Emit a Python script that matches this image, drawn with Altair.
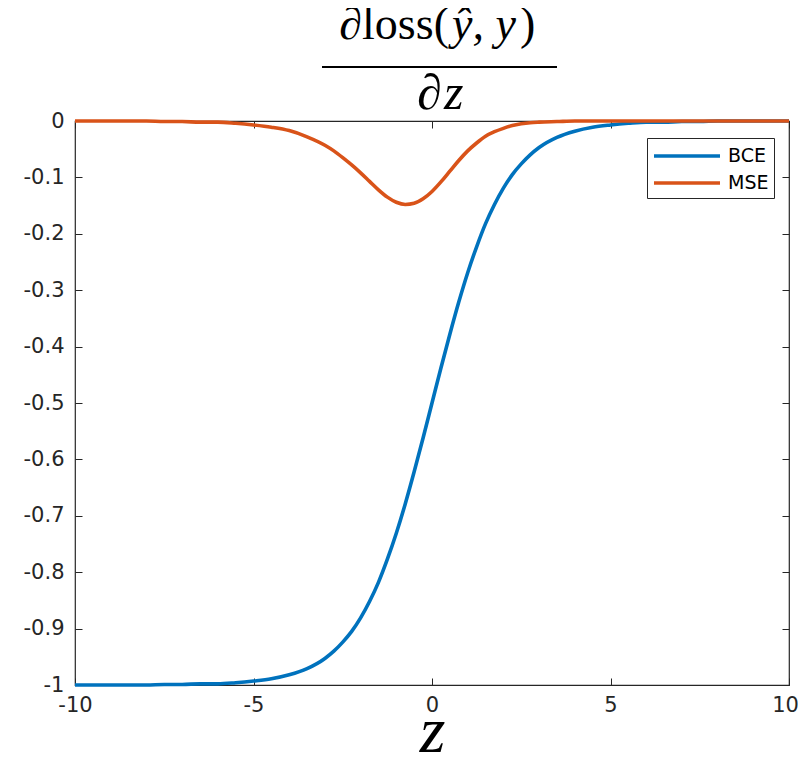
import altair as alt
import pandas as pd

z_vals = [-10, -9.5, -9, -8.5, -8, -7.5, -7, -6.5, -6, -5.5, -5, -4.5, -4, -3.5, -3,
          -2.75, -2.5, -2.25, -2, -1.75, -1.5, -1.25, -1, -0.75, -0.5, -0.25, 0,
          0.25, 0.5, 0.75, 1, 1.25, 1.5, 1.75, 2, 2.25, 2.5, 2.75,
          3, 3.5, 4, 4.5, 5, 5.5, 6, 6.5, 7, 7.5, 8, 8.5, 9, 9.5, 10]

bce_vals = [-1.000, -1.000, -1.000, -1.000, -1.000, -0.999, -0.999, -0.998, -0.998, -0.996,
            -0.993, -0.989, -0.982, -0.971, -0.953,
            -0.940, -0.924, -0.905, -0.881, -0.852, -0.818, -0.777, -0.731, -0.679, -0.622,
            -0.562, -0.500, -0.438, -0.378, -0.321, -0.269, -0.223, -0.182, -0.148, -0.119,
            -0.095, -0.076, -0.060,
            -0.047, -0.029, -0.018, -0.011, -0.007, -0.004, -0.002, -0.002, -0.001, -0.001,
            0.000, 0.000, 0.000, 0.000, 0.000]

mse_vals = [0.000, 0.000, 0.000, 0.000, 0.000, -0.001, -0.001, -0.002, -0.002, -0.004,
            -0.007, -0.011, -0.017, -0.028, -0.043,
            -0.053, -0.065, -0.078, -0.092, -0.107, -0.122, -0.135, -0.144, -0.148, -0.146,
            -0.138, -0.125, -0.108, -0.089, -0.070, -0.053, -0.039, -0.027, -0.019, -0.013,
            -0.008, -0.005, -0.003,
            -0.002, -0.001, 0.000, 0.000, 0.000, 0.000, 0.000, 0.000, 0.000, 0.000,
            0.000, 0.000, 0.000, 0.000, 0.000]

series_names = ["BCE", "MSE"]
series_colors = ["#0072BD", "#D95319"]
x_ticks = [-10, -5, 0, 5, 10]
y_ticks = [-1, -0.9, -0.8, -0.7, -0.6, -0.5, -0.4, -0.3, -0.2, -0.1, 0]
num_pieces = ["∂loss(", "ŷ, y", ")"]
den_pieces = ["∂", "z"]
x_title = "z"

df = pd.DataFrame({
    "z": z_vals * 2,
    "value": bce_vals + mse_vals,
    "series": [series_names[0]] * len(z_vals) + [series_names[1]] * len(z_vals),
})
one = pd.DataFrame({"k": [0]})

AX = "#262626"
TICK_FONT = "DejaVu Sans"
SERIF = "Liberation Serif"
label_expr = "(datum.value < 0 ? '-' : '') + format(abs(datum.value), '~g')"

xscale = alt.Scale(domain=[-10, 10], nice=False, zero=False)
yscale = alt.Scale(domain=[-1, 0], nice=False, zero=False)

common_axis = dict(grid=False, domain=False, offset=-7, tickSize=7, tickColor=AX,
                   tickWidth=1, labelColor=AX, labelFont=TICK_FONT, labelFontSize=21,
                   labelFlush=False, labelOverlap=False)

lines = alt.Chart(df).mark_line(strokeWidth=3.6, interpolate="monotone").encode(
    x=alt.X("z:Q", scale=xscale,
            axis=alt.Axis(values=x_ticks, labelExpr=label_expr, labelPadding=9,
                          labelOffset={"condition": {"test": "datum.value == 10", "value": -4},
                                       "value": 0},
                          title=x_title, titleFont=SERIF, titleFontStyle="italic",
                          titleFontWeight="normal", titleFontSize=66, titleColor="black",
                          titleBaseline="alphabetic", titleY=73, titleX=357,
                          **common_axis)),
    y=alt.Y("value:Q", scale=yscale,
            axis=alt.Axis(values=y_ticks, labelExpr=label_expr, labelPadding=11,
                          title=None, **common_axis)),
    color=alt.Color("series:N", scale=alt.Scale(domain=series_names, range=series_colors),
                    legend=alt.Legend(title=None)),
)

frame = alt.Chart(df).mark_line(opacity=0).encode(
    x=alt.X("z:Q", scale=xscale,
            axis=alt.Axis(orient="top", values=x_ticks, labels=False, title=None, **common_axis)),
    y=alt.Y("value:Q", scale=yscale,
            axis=alt.Axis(orient="right", values=y_ticks, labels=False, title=None, **common_axis)),
)

frac_bar = alt.Chart(one).mark_rule(color="black", strokeWidth=2).encode(
    x=alt.value(247), x2=alt.value(482), y=alt.value(-54)
)

def piece(txt, x, y, align, italic, size):
    kw = dict(font=SERIF, fontSize=size, color="black", align=align, baseline="alphabetic")
    if italic:
        kw["fontStyle"] = "italic"
    return alt.Chart(one).mark_text(**kw).encode(
        x=alt.value(x), y=alt.value(y), text=alt.value(txt))

title_layers = [
    piece(num_pieces[0], 374, -82, "right", False, 46),
    piece(num_pieces[1], 409, -82, "center", True, 46),
    piece(num_pieces[2], 445, -82, "left", False, 46),
    piece(den_pieces[0], 367, -12, "right", False, 50),
    piece(den_pieces[1], 369, -12, "left", True, 50),
]

chart = alt.layer(lines, frame, frac_bar, *title_layers).resolve_axis(
    x="independent", y="independent"
).properties(
    width=714, height=564,
    autosize=alt.AutoSizeParams(type="none"),
    padding={"left": 67, "top": 113, "right": 9, "bottom": 67},
).configure_view(
    stroke=AX, strokeWidth=1.2
).configure_legend(
    orient="none", legendX=572, legendY=17,
    strokeColor=AX, fillColor="white", padding=5, cornerRadius=0,
    labelFont=TICK_FONT, labelFontSize=19, labelColor="black",
    symbolType="M-3,0H3", symbolSize=484, symbolStrokeWidth=3.5,
    symbolOffset=22, labelOffset=28, rowPadding=4,
)

chart.save("out.html", embed_options={"renderer": "svg", "actions": False})
